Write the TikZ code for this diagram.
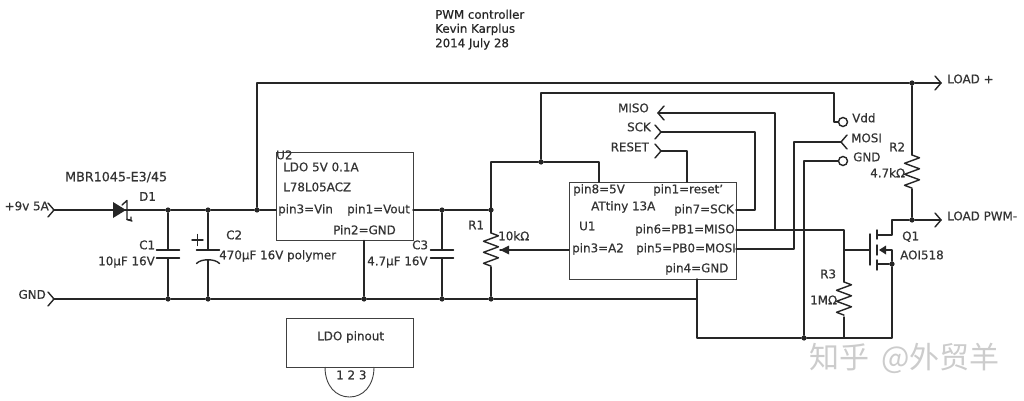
\documentclass[tikz,border=0pt]{standalone}
\usepackage{fontspec}
\setmainfont{DejaVu Sans}[BoldFont=DejaVu Sans,BoldFeatures={FakeBold=0.5}]
\newfontfamily\cjkw{Noto Sans CJK SC}
\usetikzlibrary{calc}
\tikzset{
  wire/.style={line width=1.4pt,black!85,line cap=round,line join=round},
  box/.style={draw=black!75,line width=0.9pt,fill=white,inner sep=0pt},
  dot/.style={circle,fill=black!85,inner sep=0pt,minimum size=5.2pt},
  pad/.style={circle,draw=black!85,line width=1.4pt,fill=white,inner sep=0pt,minimum size=9pt},
  lab/.style={font=\bfseries\fontsize{11.9}{12}\selectfont,text=black!80,inner sep=0pt,anchor=west,text height=9pt,text depth=2.5pt},
  labr/.style={lab,anchor=east},
  ttl/.style={font=\bfseries\fontsize{11.8}{12}\selectfont,text=black!85,inner sep=0pt,anchor=west,text height=9pt,text depth=2.5pt}
}
\newcommand{\chevR}[1]{\draw[wire] ($(#1)+(-6,-7)$) -- (#1) -- ($(#1)+(-6,7)$);}
\newcommand{\chevL}[1]{\draw[wire] ($(#1)+(6,-7)$) -- (#1) -- ($(#1)+(6,7)$);}
\newcommand{\zigV}[1]{\draw[wire] (#1) -- ++(7.5,2.8) -- ++(-15,5.5) -- ++(15,5.5) -- ++(-15,5.5) -- ++(15,5.5) -- ++(-15,5.5) -- ++(7.5,2.8);}
\begin{document}
\begin{tikzpicture}[x=1pt,y=-1pt]
\useasboundingbox[fill=white] (0,0) rectangle (1024,401);
% boxes
\node[box,minimum width=137pt,minimum height=88pt] (U2) at (344.5,196) {};
\node[box,minimum width=167pt,minimum height=97pt] (U1) at (652.5,230.5) {};
\coordinate (in) at (54,210);
\coordinate (gndL) at (54,299);
\node[dot] (j1) at (168,210) {};
\node[dot] (j2) at (208,210) {};
\node[dot] (j3) at (257,210) {};
\coordinate (vin) at (276,210);
\coordinate (vout) at (413,210);
\node[dot] (j4) at (442,210) {};
\node[dot] (j5) at (491,210) {};
\node[dot] (g1) at (168,299) {};
\node[dot] (g2) at (208,299) {};
\node[dot] (g3) at (364,299) {};
\node[dot] (g4) at (442,299) {};
\node[dot] (g5) at (491,299) {};
\coordinate (g6) at (697,299);
\node[dot] (j6) at (541,162) {};
\coordinate (r1top) at (491,162);
\coordinate (vddT) at (541,93);
\coordinate (vddR) at (834,93);
\node[pad] (vdd) at (843,122) {};
\node[pad] (gndp) at (843,161) {};
\coordinate (mosiT) at (841,142);
\coordinate (load) at (941,83);
\coordinate (loadpwm) at (941,220);
\node[dot] (j7) at (912,83) {};
\node[dot] (j8) at (912,220) {};
\coordinate (topS) at (257,83);
\coordinate (misoT) at (658,113);
\coordinate (sckT) at (661,132);
\coordinate (rstT) at (661,151);
\coordinate (pin6) at (736,230);
\coordinate (pin5) at (736,249);
\coordinate (pin7) at (736,210);
\coordinate (pin8) at (599,182);
\coordinate (pin1) at (687,182);
\coordinate (pin3) at (569,250);
\coordinate (pin4) at (697,279);
\coordinate (bL) at (697,338);
\node[dot] (j9) at (804,338) {};
\coordinate (bR) at (892,338);
\node[dot] (j10) at (892,264) {};
\coordinate (r3t) at (844,282);
\coordinate (r3b) at (844,338);
\coordinate (gate) at (870,250);
\coordinate (wiper) at (500,250);
% rails
\draw[wire] (gndL) -- (g1) -- (g2) -- (g3) -- (g4) -- (g5) -- (g6);
\draw[wire] (in) -- (j1) -- (j2) -- (j3) -- (vin);
\draw[wire] (vout) -- (j4) -- (j5);
\draw[wire] (j3) -- (topS) -- (j7) -- (load);
\draw[wire] (g3) -- (U2.south -| g3);
\chevR{in}\chevR{gndL}\chevR{load}\chevR{loadpwm}\chevR{sckT}\chevR{rstT}
\chevL{misoT}\chevL{mosiT}
% diode
\fill[black!85] (113,202) -- (126,210) -- (113,218) -- cycle;
\draw[wire] (122,205) -- (127,200.5) -- (127,219.5) -- (132,221);
\draw[wire,line width=1.2pt] (127,219.5) -- (131,220) -- (131,217);
% C1
\coordinate (c1a) at (168,250); \coordinate (c1b) at (168,258);
\draw[wire] (j1) -- (c1a) (c1b) -- (g1);
\draw[wire] ($(c1a)+(-11.5,0)$) -- ($(c1a)+(11.5,0)$);
\draw[wire] ($(c1b)+(-11.5,0)$) -- ($(c1b)+(11.5,0)$);
% C2
\coordinate (c2a) at (208,250); \coordinate (c2b) at (208,260);
\draw[wire] (j2) -- (c2a) (c2b) -- (g2);
\draw[wire] ($(c2a)+(-11.5,0)$) -- ($(c2a)+(11.5,0)$);
\draw[wire] (196.5,263.5) .. controls (201,258.5) and (215,258.5) .. (219.5,263.5);
\draw[wire] (192,240) -- (203,240) (197.5,234.5) -- (197.5,245.5);
% C3
\coordinate (c3a) at (442,250); \coordinate (c3b) at (442,258);
\draw[wire] (j4) -- (c3a) (c3b) -- (g4);
\draw[wire] ($(c3a)+(-11.5,0)$) -- ($(c3a)+(11.5,0)$);
\draw[wire] ($(c3b)+(-11.5,0)$) -- ($(c3b)+(11.5,0)$);
% R1
\coordinate (r1a) at (491,233); \coordinate (r1b) at (491,267);
\draw[wire] (r1top) -- (r1a) (r1b) -- (g5);
\zigV{r1a}
\draw[wire] (r1top) -- (j6) -- (vddT) -- (vddR) |- (vdd.west);
\draw[wire] (j6) -| (pin8);
\draw[wire] (pin3) -- (wiper);
\fill[black!85] (500,250) -- (509,245.5) -- (509,254.5) -- cycle;
% U1 signals
\draw[wire] (pin1) |- (rstT);
\draw[wire] (pin7) -| (755,132) -- (sckT);
\draw[wire] (775,230) |- (misoT);
\draw[wire] (pin6) -| (r3t);
\draw[wire] (pin5) -| (794,142) -- (mosiT);
\draw[wire] (gndp.west) -| (j9);
\draw[wire] (g6) -- (pin4);
\draw[wire] (g6) -- (bL) -- (j9) -- (bR) -- (j10);
% R3
\zigV{r3t}
\draw[wire] (844,317) -- (r3b);
% R2
\coordinate (r2a) at (912,155);
\draw[wire] (j7) -- (r2a);
\zigV{r2a}
\draw[wire] (912,189) -- (j8) -- (loadpwm);
% MOSFET
\draw[wire] (844,250) -- (gate);
\draw[wire] (870,234) -- (870,265);
\draw[wire] (877,230) -- (877,239) (877,245) -- (877,255) (877,260) -- (877,270);
\draw[wire] (877,235) -- (892,235) -- (892,220) -- (j8);
\draw[wire] (877,264) -- (j10);
\draw[wire] (884,250) -- (892,250) -- (j10);
\fill[black!85] (879,250) -- (886,245.5) -- (886,254.5) -- cycle;
% LDO pinout
\node[box,minimum width=127pt,minimum height=49pt] (ldo) at (349.5,342.5) {};
\draw[line width=0.9pt,black!75] (325,367) .. controls (325,386) and (336,397) .. (349.5,397) .. controls (363,397) and (374,386) .. (374,367);
% labels
\node[ttl] (t1) at (435,15.5) {PWM controller};
\node[ttl] (t2) at (435,29.5) {Kevin Karplus};
\node[ttl] (t3) at (435,44) {2014 July 28};
\node[labr] (l1) at (49,207) {+9v 5A};
\node[labr] (l2) at (46,295.5) {GND};
\node[lab,font=\bfseries\fontsize{12.7}{13}\selectfont] (l3) at (65,178) {MBR1045-E3/45};
\node[lab] (l4) at (139,197.5) {D1};
\node[lab] (l5) at (139,246) {C1};
\node[lab] (l6) at (98,262) {10µF 16V};
\node[lab] (l7) at (226,236) {C2};
\node[lab] (l8) at (219,256) {470µF 16V polymer};
\node[lab] (l9) at (276,156) {U2};
\node[lab] (l10) at (283,168) {LDO 5V 0.1A};
\node[lab] (l11) at (283,188) {L78L05ACZ};
\node[lab] (l12) at (278,210) {pin3=Vin};
\node[lab] (l13) at (347,210) {pin1=Vout};
\node[lab] (l14) at (333,231) {Pin2=GND};
\node[lab] (l15) at (412,246) {C3};
\node[lab] (l16) at (367,262) {4.7µF 16V};
\node[lab] (l17) at (468,226) {R1};
\node[lab] (l18) at (498,237) {10kΩ};
\node[lab] (l19) at (573,190) {pin8=5V};
\node[lab] (l20) at (653,190) {pin1=reset'};
\node[lab] (l21) at (591,207) {ATtiny 13A};
\node[lab] (l22) at (674,210) {pin7=SCK};
\node[lab] (l23) at (579,227) {U1};
\node[lab] (l24) at (635,230) {pin6=PB1=MISO};
\node[lab] (l25) at (572,249) {pin3=A2};
\node[lab] (l26) at (636,249) {pin5=PB0=MOSI};
\node[lab] (l27) at (665,269) {pin4=GND};
\node[labr] (l28) at (649,109) {MISO};
\node[labr] (l29) at (651,128) {SCK};
\node[labr] (l30) at (649,148) {RESET};
\node[lab] (l31) at (852,119) {Vdd};
\node[lab] (l32) at (851,139) {MOSI};
\node[lab] (l33) at (853,158) {GND};
\node[lab] (l34) at (947,80) {LOAD +};
\node[lab] (l35) at (947,217) {LOAD PWM-};
\node[lab] (l36) at (889,148) {R2};
\node[lab] (l37) at (870,174) {4.7kΩ};
\node[lab] (l38) at (902,237) {Q1};
\node[lab] (l39) at (900,256) {AOI518};
\node[lab] (l40) at (820,275) {R3};
\node[lab] (l41) at (810,301) {1MΩ};
\node[lab] (l42) at (317,337) {LDO pinout};
\node[lab] (l43) at (336,376) {1 2 3};
\node[inner sep=0pt,anchor=west,text=black!20,font=\cjkw\fontsize{30}{30}\selectfont] (wm) at (809,358) {知乎\hspace{12pt}@外贸羊};
\end{tikzpicture}
\end{document}
